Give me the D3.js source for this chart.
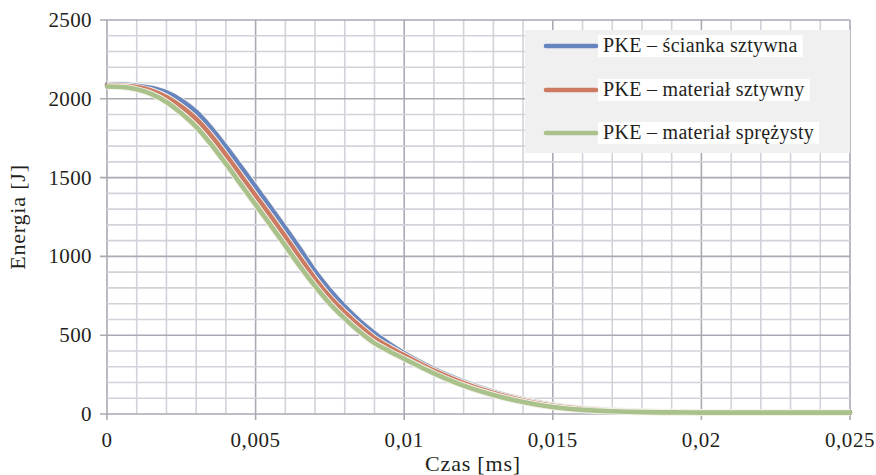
<!DOCTYPE html>
<html>
<head>
<meta charset="utf-8">
<script src="https://cdn.jsdelivr.net/npm/d3@7"></script>
<style>
  html, body { margin: 0; padding: 0; background: #ffffff; }
  svg { display: block; }
  text { font-family: "Liberation Serif", "DejaVu Serif", serif; fill: #231f20; }
</style>
</head>
<body>
<svg id="chart" width="876" height="475"></svg>
<script>
// Time samples [ms]
const times = [0, 0.0005, 0.001, 0.0015, 0.002, 0.0025, 0.003, 0.0035, 0.004, 0.0045,
  0.005, 0.0055, 0.006, 0.0065, 0.007, 0.0075, 0.008, 0.0085, 0.009, 0.0095,
  0.01, 0.011, 0.012, 0.013, 0.014, 0.015, 0.016, 0.017, 0.018, 0.019,
  0.02, 0.021, 0.022, 0.023, 0.024, 0.025];

// Kinetic energy [J]
const scianka = [2090, 2090, 2083, 2068, 2040, 1990, 1918, 1815, 1696, 1570,
  1442, 1312, 1180, 1045, 905, 785, 681, 590, 512, 445,
  385, 285, 205, 140, 92, 57, 35, 22, 15, 12,
  10, 10, 10, 10, 10, 10];
const materialSztywny = [2085, 2083, 2074, 2052, 2012, 1950, 1872, 1768, 1644, 1515,
  1386, 1258, 1125, 990, 858, 742, 645, 558, 482, 424,
  372, 275, 196, 133, 86, 52, 32, 20, 14, 11,
  10, 10, 10, 10, 10, 10];
const materialSprezysty = [2078, 2075, 2060, 2030, 1980, 1908, 1822, 1712, 1588, 1458,
  1328, 1200, 1068, 935, 812, 700, 605, 522, 450, 398,
  350, 258, 180, 121, 76, 44, 26, 17, 12, 10,
  9, 9, 9, 9, 9, 9];

const seriesNames = ["PKE \u2013 \u015bcianka sztywna", "PKE \u2013 materia\u0142 sztywny", "PKE \u2013 materia\u0142 spr\u0119\u017cysty"];
const seriesColors = ["#6684bd", "#cd7a62", "#a9c18a"];

const xTickValues = [0, 0.005, 0.01, 0.015, 0.02, 0.025];
const xTickLabels = ["0", "0,005", "0,01", "0,015", "0,02", "0,025"];
const yTickValues = [0, 500, 1000, 1500, 2000, 2500];
const yTickLabels = ["0", "500", "1000", "1500", "2000", "2500"];

const xTitle = "Czas [ms]";
const yTitle = "Energia [J]";

const svg = d3.select("#chart");
const x = d3.scaleLinear().domain([0, 0.025]).range([107, 850]);
const y = d3.scaleLinear().domain([0, 2500]).range([414, 20]);

// Grid: minor every 0.001 ms / 100 J, major every 0.005 ms / 500 J
const grid = svg.append("g");
d3.range(26).forEach(i => {
  const t = i * 0.001;
  const major = i % 5 === 0;
  grid.append("line")
    .attr("x1", x(t)).attr("x2", x(t))
    .attr("y1", y(2500)).attr("y2", y(0) + (major ? 6 : 0))
    .attr("stroke", major ? "#a9aab3" : "#d2d3da")
    .attr("stroke-width", 1.6);
});
d3.range(26).forEach(i => {
  const v = i * 100;
  const major = i % 5 === 0;
  grid.append("line")
    .attr("x1", x(0) - (major ? 7 : 0)).attr("x2", x(0.025))
    .attr("y1", y(v)).attr("y2", y(v))
    .attr("stroke", major ? "#a9aab3" : "#d2d3da")
    .attr("stroke-width", 1.6);
});

// Tick labels
svg.append("g").selectAll("text").data(yTickValues).join("text")
  .attr("x", 92).attr("y", d => y(d) + 7)
  .attr("text-anchor", "end")
  .attr("font-size", 21)
  .attr("letter-spacing", 0.4)
  .text((d, i) => yTickLabels[i]);

svg.append("g").selectAll("text").data(xTickValues).join("text")
  .attr("x", d => x(d)).attr("y", 447)
  .attr("text-anchor", "middle")
  .attr("font-size", 21)
  .attr("letter-spacing", 0.6)
  .text((d, i) => xTickLabels[i]);

// Axis titles
svg.append("text")
  .attr("x", 473).attr("y", 471)
  .attr("text-anchor", "middle")
  .attr("font-size", 22)
  .attr("letter-spacing", 0.8)
  .text(xTitle);
svg.append("text")
  .attr("transform", `translate(25,${(y(0) + y(2500)) / 2}) rotate(-90)`)
  .attr("text-anchor", "middle")
  .attr("font-size", 22)
  .attr("letter-spacing", 0.8)
  .text(yTitle);

// Energy curves
const seriesData = [scianka, materialSztywny, materialSprezysty];
const line = d3.line()
  .x((d, i) => x(times[i]))
  .y(d => y(d))
  .curve(d3.curveMonotoneX);

const curves = svg.append("g");
seriesData.forEach((vals, k) => {
  curves.append("path")
    .attr("d", line(vals))
    .attr("fill", "none")
    .attr("stroke", "#f4f1ea")
    .attr("stroke-width", 6.5)
    .attr("stroke-linejoin", "round");
  curves.append("path")
    .attr("d", line(vals))
    .attr("fill", "none")
    .attr("stroke", seriesColors[k])
    .attr("stroke-width", 4.6)
    .attr("stroke-linejoin", "round")
    .attr("stroke-linecap", "round");
});

// Legend
const legend = svg.append("g");
legend.append("rect")
  .attr("x", 525).attr("y", 30)
  .attr("width", 325).attr("height", 123)
  .attr("fill", "#f0f0f1");
const legendRows = [46, 90, 133];
seriesNames.forEach((name, k) => {
  const row = legend.append("g");
  const bg = row.append("rect").attr("fill", "#ffffff");
  row.append("line")
    .attr("x1", 546).attr("x2", 596)
    .attr("y1", legendRows[k]).attr("y2", legendRows[k])
    .attr("stroke", seriesColors[k])
    .attr("stroke-width", 4.6)
    .attr("stroke-linecap", "round");
  const label = row.append("text")
    .attr("x", 603).attr("y", legendRows[k] + 6)
    .attr("font-size", 20)
    .attr("letter-spacing", 0.3)
    .text(name);
  const w = label.node().getComputedTextLength();
  bg.attr("x", 598).attr("y", legendRows[k] - 11)
    .attr("width", w + 10).attr("height", 22);
});
</script>
</body>
</html>
